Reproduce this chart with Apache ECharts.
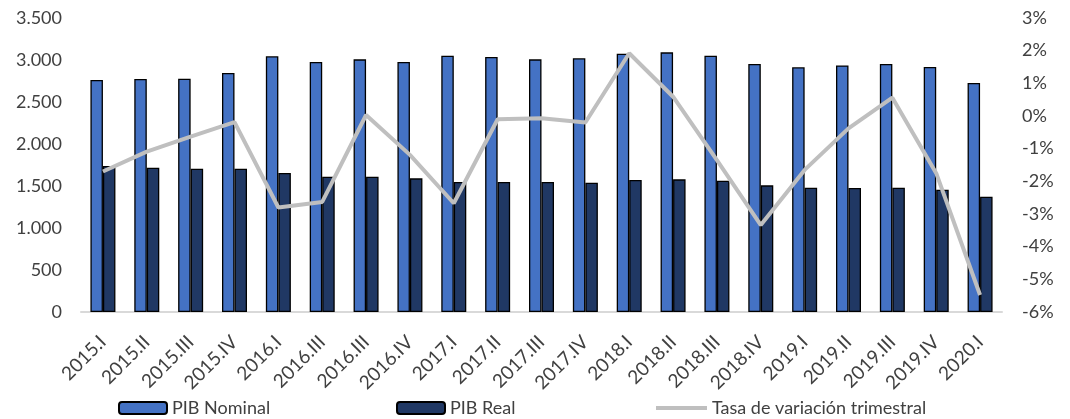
<!DOCTYPE html>
<html lang="es">

<head>
    <meta charset="UTF-8">
    <title>PIB</title>
    <style>
        html, body { margin: 0; padding: 0; background: #fff; }
    </style>
</head>

<body>
    <div id="main" style="width: 1070px; height: 419px"></div>
    <script src="https://cdn.jsdelivr.net/npm/echarts@6/dist/echarts.min.js"></script>
    <script type="text/javascript">
        // datos
        var trimestres = ['2015.I', '2015.II', '2015.III', '2015.IV', '2016.I', '2016.III', '2016.III', '2016.IV',
            '2017.I', '2017.II', '2017.III', '2017.IV', '2018.I', '2018.II', '2018.III', '2018.IV',
            '2019.I', '2019.II', '2019.III', '2019.IV', '2020.I'];
        var pibNominal = [2762, 2774, 2778, 2845, 3044, 2976, 3008, 2976, 3051, 3036, 3008, 3020,
            3075, 3091, 3051, 2952, 2913, 2936, 2952, 2917, 2726];
        var pibReal = [1738, 1718, 1706, 1706, 1655, 1611, 1611, 1591, 1548, 1548, 1548, 1540,
            1571, 1579, 1563, 1508, 1480, 1476, 1480, 1456, 1373];
        var tasa = [-1.70, -1.09, -0.63, -0.19, -2.80, -2.63, 0.03, -1.19, -2.67, -0.10, -0.07, -0.20,
            1.92, 0.59, -1.35, -3.34, -1.65, -0.38, 0.56, -1.75, -5.48];

        var myChart = echarts.init(document.getElementById('main'));
        var txt = '#404040';
        var fuente = 'Lato';
        var legendText = { fontSize: 18, color: txt, fontFamily: fuente };

        var option = {
            animation: false,
            textStyle: { fontFamily: fuente },
            grid: { left: 81, right: 68, top: 18, bottom: 107 },
            legend: [{
                data: ['PIB Nominal'],
                left: 118, top: 399, padding: 0,
                itemWidth: 48, itemHeight: 12,
                textStyle: legendText
            }, {
                data: ['PIB Real'],
                left: 396, top: 399, padding: 0,
                itemWidth: 48, itemHeight: 12,
                textStyle: legendText
            }, {
                data: [{ name: 'Tasa de variación trimestral', icon: 'rect' }],
                left: 656, top: 399, padding: 0,
                itemWidth: 51, itemHeight: 4,
                textStyle: legendText
            }],
            xAxis: {
                type: 'category',
                data: trimestres,
                axisLine: { lineStyle: { color: '#d9d9d9', width: 2 } },
                axisTick: { show: false },
                axisLabel: {
                    rotate: 45, interval: 0, margin: 27,
                    fontSize: 19, color: txt, fontFamily: fuente
                }
            },
            yAxis: [{
                type: 'value',
                min: 0, max: 3500, interval: 500,
                splitLine: { show: false },
                axisLine: { show: false },
                axisLabel: {
                    margin: 19, fontSize: 18, color: txt, fontFamily: fuente,
                    formatter: function (v) {
                        return String(v).replace(/\B(?=(\d{3})+(?!\d))/g, '.');
                    }
                }
            }, {
                type: 'value',
                min: -6, max: 3, interval: 1,
                splitLine: { show: false },
                axisLine: { show: false },
                axisLabel: {
                    margin: 20, fontSize: 18, color: txt, fontFamily: fuente,
                    formatter: '{value}%'
                }
            }],
            series: [{
                name: 'PIB Nominal',
                type: 'bar',
                data: pibNominal,
                barWidth: 12.5,
                barGap: '0%',
                itemStyle: { color: '#4472c4', borderColor: '#000', borderWidth: 1.3 }
            }, {
                name: 'PIB Real',
                type: 'bar',
                data: pibReal,
                barWidth: 12.5,
                itemStyle: { color: '#203864', borderColor: '#000', borderWidth: 1.3 }
            }, {
                name: 'Tasa de variación trimestral',
                type: 'line',
                yAxisIndex: 1,
                data: tasa,
                symbol: 'none',
                lineStyle: { color: '#bfbfbf', width: 4 },
                itemStyle: { color: '#bfbfbf' }
            }]
        };
        myChart.setOption(option);
    </script>
</body>

</html>
